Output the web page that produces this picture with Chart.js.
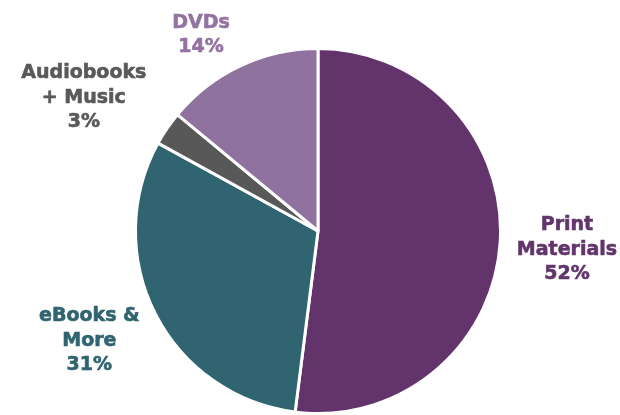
<!DOCTYPE html>
<html>
<head>
<meta charset="utf-8">
<script src="https://cdn.jsdelivr.net/npm/chart.js@4"></script>
<style>
html,body{margin:0;padding:0;background:#fff;}
#wrap{width:620px;height:415px;position:relative;}
</style>
</head>
<body>
<div id="wrap"><canvas id="c"></canvas></div>
<script>
const categories = ["Print Materials", "eBooks & More", "Audiobooks + Music", "DVDs"];
const values = [52, 31, 3, 14];
const labelLines = [["Print", "Materials", "52%"], ["eBooks &", "More", "31%"], ["Audiobooks", "+ Music", "3%"], ["DVDs", "14%"]];
const sliceColors = ["#62346B", "#2F6470", "#585858", "#8F739E"];
const textColors = ["#62346B", "#2F6470", "#595959", "#9273A1"];

// label anchors relative to pie center, in units of radius (first line baseline)
const anchors = [[1.364, -0.005], [-1.253, 0.495], [-1.283, -0.838], [-0.641, -1.114]];

const labelPlugin = {
  id: 'outerLabels',
  afterDatasetsDraw(chart) {
    const ctx = chart.ctx;
    const meta = chart.getDatasetMeta(0);
    const arc = meta.data[0];
    const cx = arc.x, cy = arc.y, r = arc.outerRadius;
    ctx.save();
    ctx.font = 'bold 19px "DejaVu Sans"';
    ctx.textAlign = 'center';
    ctx.textBaseline = 'alphabetic';
    labelLines.forEach((lines, i) => {
      const x = cx + anchors[i][0] * r;
      const y0 = cy + anchors[i][1] * r;
      ctx.fillStyle = textColors[i];
      lines.forEach((t, j) => {
        ctx.strokeStyle = textColors[i];
        ctx.lineWidth = 0.6;
        ctx.strokeText(t, x, y0 + j * 24.5);
        ctx.fillText(t, x, y0 + j * 24.5);
      });
    });
    ctx.restore();
  }
};

new Chart(document.getElementById('c'), {
  type: 'pie',
  data: {
    labels: categories,
    datasets: [{
      data: values,
      backgroundColor: sliceColors,
      borderColor: '#ffffff',
      borderWidth: 3
    }]
  },
  options: {
    responsive: true,
    maintainAspectRatio: false,
    animation: false,
    layout: { padding: { top: 47, bottom: 0, left: 133, right: 117 } },
    plugins: { legend: { display: false }, tooltip: { enabled: false } }
  },
  plugins: [labelPlugin]
});
</script>
</body>
</html>
